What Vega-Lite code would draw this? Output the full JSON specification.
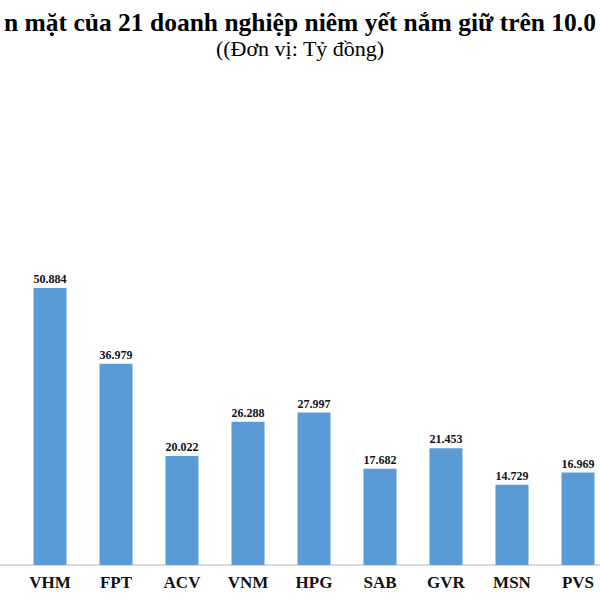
{
  "$schema": "https://vega.github.io/schema/vega-lite/v6.json",
  "autosize": {"type": "none"},
  "width": 600,
  "height": 495,
  "padding": {"left": 0, "top": 70, "right": 0, "bottom": 35},
  "background": "white",
  "config": {"view": {"stroke": null}},
  "title": {
    "text": "n mặt của 21 doanh nghiệp niêm yết nắm giữ trên 10.0",
    "subtitle": "((Đơn vị: Tỷ đồng)",
    "anchor": "middle",
    "frame": "group",
    "font": "Liberation Serif",
    "fontSize": 25.5,
    "fontWeight": "bold",
    "color": "#000000",
    "subtitleFont": "Liberation Serif",
    "subtitleFontSize": 22,
    "subtitleColor": "#000000",
    "subtitlePadding": 3,
    "offset": 10
  },
  "data": {
    "values": [
      {"ma": "VHM", "gia_tri": 50.884, "nhan": "50.884"},
      {"ma": "FPT", "gia_tri": 36.979, "nhan": "36.979"},
      {"ma": "ACV", "gia_tri": 20.022, "nhan": "20.022"},
      {"ma": "VNM", "gia_tri": 26.288, "nhan": "26.288"},
      {"ma": "HPG", "gia_tri": 27.997, "nhan": "27.997"},
      {"ma": "SAB", "gia_tri": 17.682, "nhan": "17.682"},
      {"ma": "GVR", "gia_tri": 21.453, "nhan": "21.453"},
      {"ma": "MSN", "gia_tri": 14.729, "nhan": "14.729"},
      {"ma": "PVS", "gia_tri": 16.969, "nhan": "16.969"}
    ]
  },
  "encoding": {
    "x": {
      "field": "ma",
      "type": "nominal",
      "sort": null,
      "scale": {"range": [17, 611], "paddingInner": 0.5, "paddingOuter": 0.25},
      "axis": {
        "title": null,
        "domain": false,
        "ticks": false,
        "labelAngle": 0,
        "labelFont": "Liberation Serif",
        "labelFontSize": 17,
        "labelFontWeight": "bold",
        "labelColor": "#111111",
        "labelPadding": 9
      }
    },
    "y": {
      "field": "gia_tri",
      "type": "quantitative",
      "scale": {"domain": [0, 90.9], "nice": false},
      "axis": null
    }
  },
  "layer": [
    {
      "mark": {"type": "rule", "color": "#d9d9d9", "strokeWidth": 1},
      "encoding": {"x": null, "y": {"datum": 0, "type": "quantitative"}}
    },
    {
      "mark": {"type": "bar", "color": "#5b9bd5"}
    },
    {
      "mark": {
        "type": "text",
        "baseline": "alphabetic",
        "dy": -5,
        "font": "Liberation Serif",
        "fontSize": 12,
        "fontWeight": "bold",
        "color": "#111111"
      },
      "encoding": {"text": {"field": "nhan"}}
    }
  ]
}
